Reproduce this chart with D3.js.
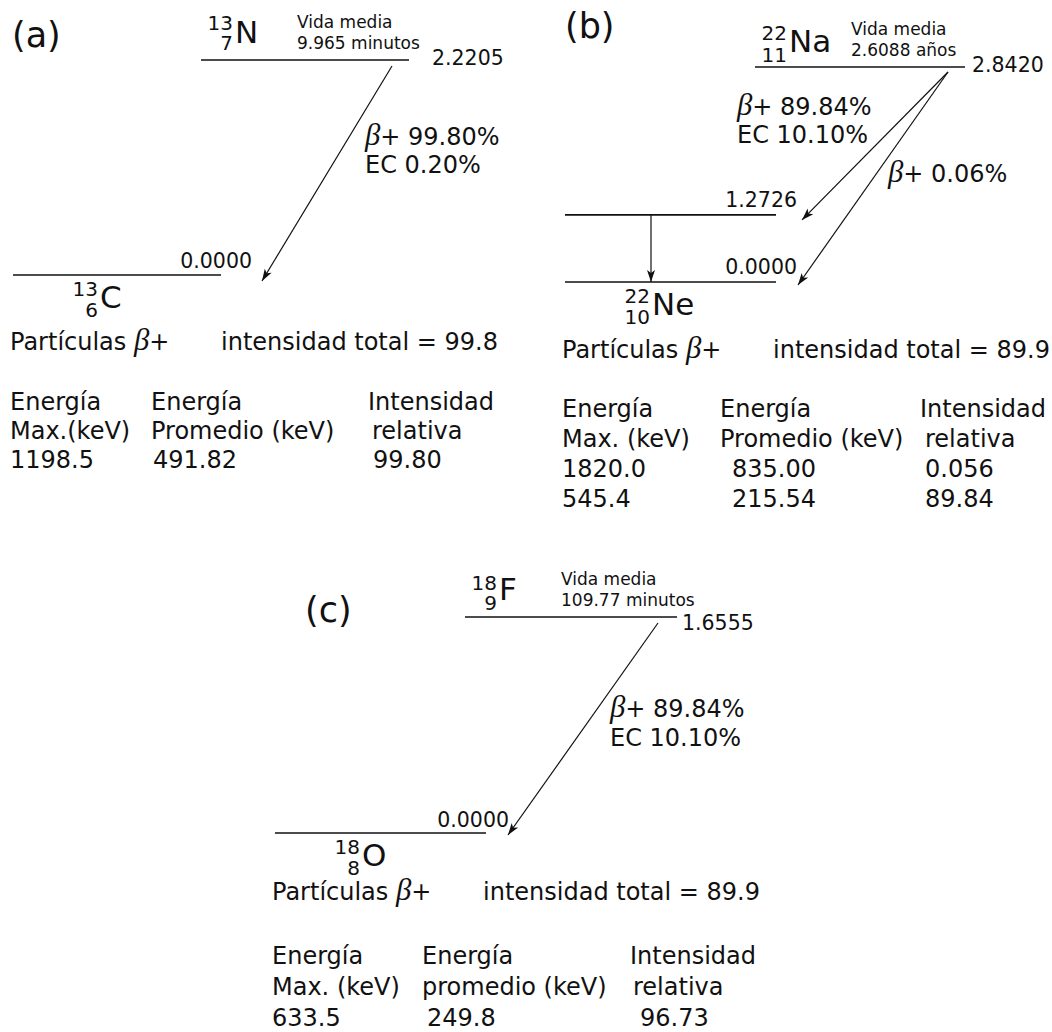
<!DOCTYPE html>
<html>
<head>
<meta charset="utf-8">
<script src="https://cdn.jsdelivr.net/npm/d3@7"></script>
<style>
  html, body { margin: 0; padding: 0; background: #fff; }
  svg { display: block; }
  text { font-family: "DejaVu Sans", Verdana, sans-serif; fill: #111; }
  .beta { font-family: "Liberation Serif", "DejaVu Serif", serif; font-style: italic; }
</style>
</head>
<body>
<svg id="chart" width="1052" height="1032"></svg>
<script>
// Decay schemes for three positron emitters: 13N, 22Na, 18F.
const panelTags = ["(a)", "(b)", "(c)"];
const parentSymbols = ["N", "Na", "F"];
const parentMass = ["13", "22", "18"];
const parentZ = ["7", "11", "9"];
const daughterSymbols = ["C", "Ne", "O"];
const daughterMass = ["13", "22", "18"];
const daughterZ = ["6", "10", "8"];
const halfLives = ["9.965 minutos", "2.6088 años", "109.77 minutos"];
const parentLevels = [2.2205, 2.8420, 1.6555];            // MeV
const daughterLevels = [[0.0], [1.2726, 0.0], [0.0]];     // MeV
const branchTargets = [[0.0], [1.2726, 0.0], [0.0]];      // level fed by each branch
const branchLabels = [
  [["β+ 99.80%", "EC 0.20%"]],
  [["β+ 89.84%", "EC 10.10%"], ["β+ 0.06%"]],
  [["β+ 89.84%", "EC 10.10%"]]
];
const gammaTransitions = [[], [[1.2726, 0.0]], []];
const totalIntensity = ["99.8", "89.9", "89.9"];
const headerRow1 = [
  ["Energía", "Energía", "Intensidad"],
  ["Energía", "Energía", "Intensidad"],
  ["Energía", "Energía", "Intensidad"]
];
const headerRow2 = [
  ["Max.(keV)", "Promedio (keV)", "relativa"],
  ["Max. (keV)", "Promedio (keV)", "relativa"],
  ["Max. (keV)", "promedio (keV)", "relativa"]
];
const betaMaxEnergy = [["1198.5"], ["1820.0", "545.4"], ["633.5"]];
const betaMeanEnergy = [["491.82"], ["835.00", "215.54"], ["249.8"]];
const betaIntensity = [["99.80"], ["0.056", "89.84"], ["96.73"]];

// Drawing layout of each scheme
const layout = [
  { x0: 13, top: 60, ground: 275,
    parentLine: [188, 396], daughterLine: [0, 208],
    parentLabel: [419, 5], levelLabel: [239, -7],
    parentSym: [-17, -30, -10], arrowStart: [-17, 6],
    arrowEnds: [[249, 6]], branchPos: [[352, 145]], lineGap: 28,
    gammaX: 86, tag: [12, 47],
    particlesY: 350, rows: [410, 439, 468],
    cols: [[-3, 138, 355], [-3, 138, 359], [-3, 140, 360]] },
  { x0: 565, top: 67, ground: 282,
    parentLine: [190, 400], daughterLine: [0, 211],
    parentLabel: [407, 5], levelLabel: [232, -8],
    parentSym: [-15, -27, -5], arrowStart: [-17, 5],
    arrowEnds: [[237, 5], [233, 3]], branchPos: [[172, 115], [323, 182]], lineGap: 28,
    gammaX: 86, tag: [565, 38],
    particlesY: 358, rows: [417, 447, 477, 507],
    cols: [[-3, 155, 355], [-3, 155, 360], [-3, 167, 360]] },
  { x0: 275, top: 617, ground: 833,
    parentLine: [190, 402], daughterLine: [0, 211],
    parentLabel: [407, 13], levelLabel: [234, -6],
    parentSym: [-17, -27, -7], arrowStart: [-19, 6],
    arrowEnds: [[233, 2]], branchPos: [[335, 717]], lineGap: 29,
    gammaX: 86, tag: [305, 622],
    particlesY: 900, rows: [964, 995, 1026],
    cols: [[-3, 147, 355], [-3, 147, 358], [-3, 152, 365]] }
];

const svg = d3.select("#chart");
const fmtE = d3.format(".4f");

svg.append("defs").append("marker")
  .attr("id", "head")
  .attr("markerUnits", "userSpaceOnUse")
  .attr("viewBox", "-13 -5 14 10")
  .attr("refX", 0).attr("refY", 0)
  .attr("markerWidth", 14).attr("markerHeight", 10)
  .attr("orient", "auto")
  .append("path")
  .attr("d", "M0,0 L-12,-4 L-9,0 L-12,4 Z")
  .attr("fill", "#111");

// Text with the β drawn as an italic serif glyph
function richText(sel, str, x, y, size) {
  const t = sel.append("text").attr("x", x).attr("y", y).attr("font-size", size);
  str.split(/(β)/).filter(s => s.length).forEach(part => {
    const ts = t.append("tspan").text(part);
    if (part === "β") ts.attr("class", "beta").attr("font-size", size * 1.28);
  });
  return t;
}

layout.forEach((L, i) => {
  const g = svg.append("g").attr("transform", `translate(${L.x0},0)`);
  const y = d3.scalePow().exponent(1.45)
    .domain([0, parentLevels[i]])
    .range([L.ground, L.top]);

  // panel tag
  svg.append("text").attr("x", L.tag[0]).attr("y", L.tag[1])
    .attr("font-size", 35).text(panelTags[i]);

  // parent level
  const yp = y(parentLevels[i]);
  g.append("line")
    .attr("x1", L.parentLine[0]).attr("x2", L.parentLine[1])
    .attr("y1", yp).attr("y2", yp)
    .attr("stroke", "#111").attr("stroke-width", 1.7);
  g.append("text")
    .attr("x", L.parentLabel[0]).attr("y", yp + L.parentLabel[1])
    .attr("font-size", 20.5).text(fmtE(parentLevels[i]));

  // parent nuclide label
  const px = L.parentLine[0] + 34;
  g.append("text").attr("x", px).attr("y", yp + L.parentSym[0])
    .attr("font-size", 31).text(parentSymbols[i]);
  g.append("text").attr("x", px - 2).attr("y", yp + L.parentSym[1])
    .attr("font-size", 20).attr("text-anchor", "end").text(parentMass[i]);
  g.append("text").attr("x", px - 2).attr("y", yp + L.parentSym[2])
    .attr("font-size", 20).attr("text-anchor", "end").text(parentZ[i]);

  // half-life
  const hx = L.parentLine[0] + 96;
  g.append("text").attr("x", hx).attr("y", yp - 32)
    .attr("font-size", 17).text("Vida media");
  g.append("text").attr("x", hx).attr("y", yp - 11)
    .attr("font-size", 17).text(halfLives[i]);

  // daughter levels
  daughterLevels[i].forEach(e => {
    const yl = y(e);
    g.append("line")
      .attr("x1", L.daughterLine[0]).attr("x2", L.daughterLine[1])
      .attr("y1", yl).attr("y2", yl)
      .attr("stroke", "#111").attr("stroke-width", 1.7);
    g.append("text")
      .attr("x", L.levelLabel[0]).attr("y", yl + L.levelLabel[1])
      .attr("text-anchor", "end").attr("font-size", 20.5).text(fmtE(e));
  });

  // daughter nuclide label
  const dx = 87, yg = y(0);
  g.append("text").attr("x", dx).attr("y", yg + 33)
    .attr("font-size", 31).text(daughterSymbols[i]);
  g.append("text").attr("x", dx - 2).attr("y", yg + 21)
    .attr("font-size", 20).attr("text-anchor", "end").text(daughterMass[i]);
  g.append("text").attr("x", dx - 2).attr("y", yg + 42)
    .attr("font-size", 20).attr("text-anchor", "end").text(daughterZ[i]);

  // beta/EC branches
  const sx = L.parentLine[1] + L.arrowStart[0], sy = yp + L.arrowStart[1];
  branchTargets[i].forEach((e, k) => {
    g.append("line")
      .attr("x1", sx).attr("y1", sy)
      .attr("x2", L.arrowEnds[k][0]).attr("y2", y(e) + L.arrowEnds[k][1])
      .attr("stroke", "#111").attr("stroke-width", 1.2)
      .attr("marker-end", "url(#head)");
    branchLabels[i][k].forEach((lab, j) => {
      richText(g, lab, L.branchPos[k][0], L.branchPos[k][1] + j * L.lineGap, 24);
    });
  });

  // gamma transitions
  gammaTransitions[i].forEach(([from, to]) => {
    g.append("line")
      .attr("x1", L.gammaX).attr("x2", L.gammaX)
      .attr("y1", y(from)).attr("y2", y(to))
      .attr("stroke", "#111").attr("stroke-width", 1.2)
      .attr("marker-end", "url(#head)");
  });

  // positron summary
  richText(g, "Partículas β+", -3, L.particlesY, 24);
  g.append("text").attr("x", 208).attr("y", L.particlesY)
    .attr("font-size", 24).text("intensidad total = " + totalIntensity[i]);

  // table
  headerRow1[i].forEach((s, c) => {
    g.append("text").attr("x", L.cols[0][c]).attr("y", L.rows[0])
      .attr("font-size", 24).text(s);
  });
  headerRow2[i].forEach((s, c) => {
    g.append("text").attr("x", L.cols[1][c]).attr("y", L.rows[1])
      .attr("font-size", 24).text(s);
  });
  betaMaxEnergy[i].forEach((v, r) => {
    const cells = [v, betaMeanEnergy[i][r], betaIntensity[i][r]];
    cells.forEach((s, c) => {
      g.append("text").attr("x", L.cols[2][c]).attr("y", L.rows[2 + r])
        .attr("font-size", 24).text(s);
    });
  });
});
</script>
</body>
</html>
